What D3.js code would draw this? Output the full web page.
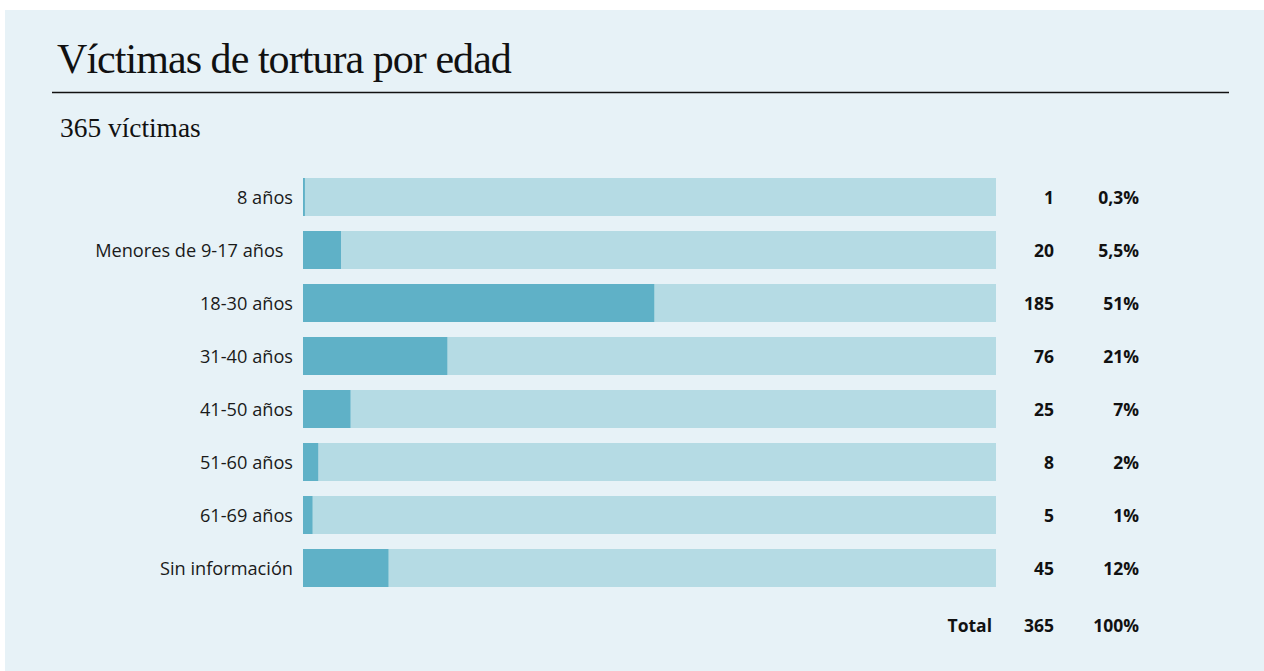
<!DOCTYPE html>
<html>
<head>
<meta charset="utf-8">
<script src="https://cdn.jsdelivr.net/npm/d3@7"></script>
<style>
  body { margin: 0; background: #ffffff; }
  svg { display: block; }
  text { white-space: pre; }
</style>
</head>
<body>
<svg></svg>
<script>
// data
var categories = ["8 años", "Menores de 9-17 años\u00a0\u00a0", "18-30 años", "31-40 años",
                  "41-50 años", "51-60 años", "61-69 años", "Sin información"];
var counts = [1, 20, 185, 76, 25, 8, 5, 45];
var percents = ["0,3%", "5,5%", "51%", "21%", "7%", "2%", "1%", "12%"];
var total = 365;
var totalPercent = "100%";

var W = 1264, H = 671;

var svg = d3.select("svg")
    .attr("width", W)
    .attr("height", H);

// panel
svg.append("rect")
    .attr("x", 5).attr("y", 10)
    .attr("width", W - 5).attr("height", H - 10)
    .attr("fill", "#e7f2f7");

// title + rule
svg.append("text")
    .attr("x", 57).attr("y", 73)
    .style("font-family", "'Liberation Serif', serif")
    .style("font-size", "42px")
    .style("letter-spacing", "-0.95px")
    .attr("fill", "#111")
    .text("Víctimas de tortura por edad");

svg.append("line")
    .attr("x1", 52).attr("x2", 1229)
    .attr("y1", 92.5).attr("y2", 92.5)
    .attr("stroke", "#111").attr("stroke-width", 1.3);

svg.append("text")
    .attr("x", 60).attr("y", 137)
    .style("font-family", "'Liberation Serif', serif")
    .style("font-size", "27.4px")
    .attr("fill", "#111")
    .text(total + " víctimas");

// scales
var x = d3.scaleLinear()
    .domain([0, total])
    .range([303, 996]);

var y = d3.scaleBand()
    .domain(categories)
    .range([178 - 7.5, 178 - 7.5 + 53 * categories.length])
    .paddingInner(15 / 53)
    .paddingOuter(7.5 / 53);

var rows = categories.map(function (c, i) {
    return { cat: c, n: counts[i], pct: percents[i] };
});

var g = svg.append("g");

// background (full) bars
g.selectAll(".bg")
    .data(rows)
    .join("rect")
      .attr("class", "bg")
      .attr("x", x(0))
      .attr("y", function (d) { return y(d.cat); })
      .attr("width", x(total) - x(0))
      .attr("height", y.bandwidth())
      .attr("fill", "#b5dbe4");

// value bars
g.selectAll(".bar")
    .data(rows)
    .join("rect")
      .attr("class", "bar")
      .attr("x", x(0))
      .attr("y", function (d) { return y(d.cat); })
      .attr("width", function (d) { return x(d.n) - x(0); })
      .attr("height", y.bandwidth())
      .attr("fill", "#5fb1c7");

var labelFont = "'Open Sans', 'Noto Sans', sans-serif";

// category labels
g.selectAll(".lab")
    .data(rows)
    .join("text")
      .attr("class", "lab")
      .attr("x", 293)
      .attr("y", function (d) { return y(d.cat) + y.bandwidth() / 2; })
      .attr("dy", "0.4em")
      .attr("text-anchor", "end")
      .style("font-family", labelFont)
      .style("font-size", "18.2px")
      .attr("fill", "#1a1a1a")
      .text(function (d) { return d.cat; });

// counts
g.selectAll(".cnt")
    .data(rows)
    .join("text")
      .attr("class", "cnt")
      .attr("x", 1054)
      .attr("y", function (d) { return y(d.cat) + y.bandwidth() / 2; })
      .attr("dy", "0.4em")
      .attr("text-anchor", "end")
      .style("font-family", labelFont)
      .style("font-size", "17.5px")
      .style("font-weight", "bold")
      .attr("fill", "#111")
      .text(function (d) { return d.n; });

// percents
g.selectAll(".pct")
    .data(rows)
    .join("text")
      .attr("class", "pct")
      .attr("x", 1139)
      .attr("y", function (d) { return y(d.cat) + y.bandwidth() / 2; })
      .attr("dy", "0.4em")
      .attr("text-anchor", "end")
      .style("font-family", labelFont)
      .style("font-size", "17.5px")
      .style("font-weight", "bold")
      .attr("fill", "#111")
      .text(function (d) { return d.pct; });

// total row
var totalY = y(categories[categories.length - 1]) + y.bandwidth() / 2 + 57;
var totals = [["Total", 992], [total, 1054], [totalPercent, 1139]];
g.selectAll(".tot")
    .data(totals)
    .join("text")
      .attr("class", "tot")
      .attr("x", function (d) { return d[1]; })
      .attr("y", totalY)
      .attr("dy", "0.4em")
      .attr("text-anchor", "end")
      .style("font-family", labelFont)
      .style("font-size", "17.5px")
      .style("font-weight", "bold")
      .attr("fill", "#111")
      .text(function (d) { return d[0]; });
</script>
</body>
</html>
